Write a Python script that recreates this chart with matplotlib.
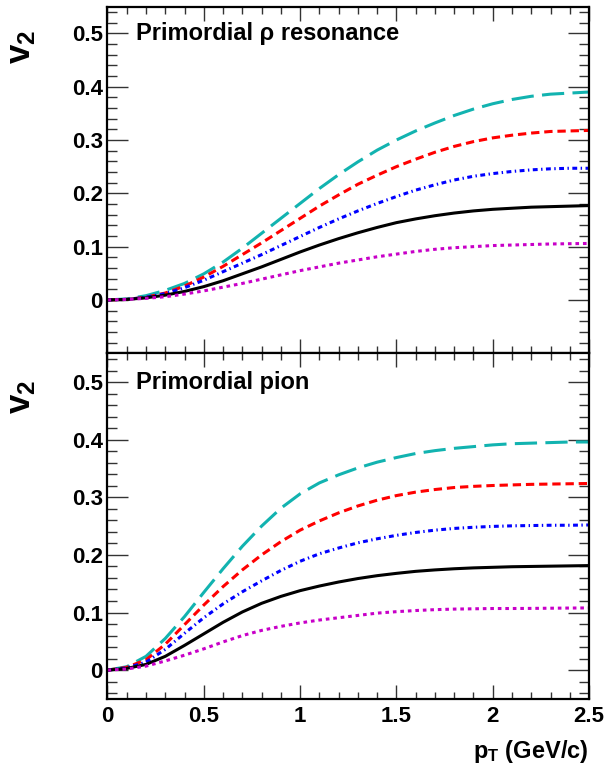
import numpy as np
import matplotlib
matplotlib.use("Agg")
import matplotlib.pyplot as plt
from matplotlib.ticker import MultipleLocator, FixedLocator, FuncFormatter

plt.rcParams["font.family"] = ["Liberation Sans", "DejaVu Sans"]
plt.rcParams["font.weight"] = "bold"
plt.rcParams["mathtext.fontset"] = "custom"
plt.rcParams["mathtext.rm"] = "Liberation Sans:bold"
plt.rcParams["mathtext.bf"] = "Liberation Sans:bold"
plt.rcParams["mathtext.it"] = "Liberation Sans:bold"
plt.rcParams["lines.scale_dashes"] = False

pt = np.round(np.arange(0, 2.51, 0.1), 2)

# primordial rho resonance
rho_cyan = [0, 0.002, 0.008, 0.018, 0.031, 0.049, 0.071, 0.097, 0.125, 0.153, 0.181,
            0.209, 0.235, 0.259, 0.281, 0.300, 0.317, 0.332, 0.346, 0.358, 0.368,
            0.376, 0.382, 0.386, 0.388, 0.390]
rho_red = [0, 0.001, 0.005, 0.013, 0.026, 0.043, 0.063, 0.085, 0.107, 0.130, 0.153,
           0.176, 0.197, 0.217, 0.234, 0.250, 0.264, 0.277, 0.288, 0.297, 0.304,
           0.309, 0.313, 0.316, 0.317, 0.318]
rho_blue = [0, 0.001, 0.005, 0.012, 0.023, 0.037, 0.053, 0.069, 0.085, 0.102, 0.119,
            0.136, 0.152, 0.167, 0.181, 0.194, 0.206, 0.216, 0.225, 0.232, 0.237,
            0.241, 0.244, 0.246, 0.247, 0.247]
rho_black = [0, 0.001, 0.004, 0.009, 0.016, 0.025, 0.036, 0.049, 0.062, 0.076, 0.090,
             0.103, 0.115, 0.126, 0.136, 0.145, 0.152, 0.158, 0.163, 0.167, 0.170,
             0.172, 0.174, 0.175, 0.176, 0.177]
rho_magenta = [0, 0.001, 0.003, 0.006, 0.011, 0.017, 0.024, 0.031, 0.039, 0.047, 0.055,
               0.062, 0.069, 0.075, 0.081, 0.086, 0.091, 0.095, 0.098, 0.100, 0.102,
               0.103, 0.104, 0.105, 0.1055, 0.106]

# primordial pion
pi_cyan = [0, 0.006, 0.024, 0.055, 0.093, 0.135, 0.176, 0.215, 0.250, 0.281, 0.306,
           0.325, 0.339, 0.351, 0.361, 0.369, 0.376, 0.381, 0.385, 0.388, 0.391,
           0.393, 0.394, 0.395, 0.396, 0.396]
pi_red = [0, 0.005, 0.018, 0.045, 0.079, 0.113, 0.145, 0.174, 0.200, 0.223, 0.243,
          0.259, 0.273, 0.285, 0.295, 0.303, 0.309, 0.3135, 0.317, 0.319, 0.3205,
          0.3215, 0.3225, 0.323, 0.3235, 0.324]
pi_blue = [0, 0.004, 0.014, 0.036, 0.064, 0.091, 0.115, 0.136, 0.155, 0.173, 0.189,
           0.202, 0.212, 0.221, 0.228, 0.234, 0.239, 0.243, 0.246, 0.248, 0.2495,
           0.2505, 0.251, 0.2515, 0.2515, 0.252]
pi_black = [0, 0.003, 0.010, 0.024, 0.043, 0.063, 0.083, 0.101, 0.116, 0.128, 0.138,
            0.146, 0.153, 0.159, 0.164, 0.168, 0.1715, 0.174, 0.176, 0.1775, 0.1785,
            0.1795, 0.180, 0.1805, 0.181, 0.1815]
pi_magenta = [0, 0.002, 0.007, 0.016, 0.026, 0.037, 0.049, 0.060, 0.069, 0.076, 0.082,
              0.087, 0.091, 0.095, 0.099, 0.1015, 0.1035, 0.105, 0.106, 0.1065, 0.107,
              0.107, 0.1072, 0.1075, 0.1078, 0.108]

styles = [
    ("#12b3b0", (0, (16, 6))),
    ("#ff0000", (0, (6, 3.5))),
    ("#0000ff", (0, (3.5, 2.5, 1, 2.5))),
    ("#000000", "-"),
    ("#c800c8", (0, (2.6, 2.8))),
]

panels = [
    ("Primordial \u03c1 resonance", [rho_cyan, rho_red, rho_blue, rho_black, rho_magenta], -0.1),
    ("Primordial pion", [pi_cyan, pi_red, pi_blue, pi_black, pi_magenta], -0.05),
]

fig = plt.figure(figsize=(6.08, 7.72), dpi=100)
left, width = 0.1768, 0.792
boxes = [(left, 0.5424, width, 0.4489), (left, 0.0946, width, 0.4478)]

fmt = FuncFormatter(lambda v, p: "0" if abs(v) < 1e-9 else f"{v:g}")

for (title, curves, ymin), box in zip(panels, boxes):
    ax = fig.add_axes(box)
    for vals, (color, ls) in zip(curves, styles):
        ax.plot(pt, vals, color=color, linestyle=ls, lw=2.2,
                dash_capstyle="butt", solid_capstyle="butt", solid_joinstyle="round")
    ax.set_xlim(0, 2.5)
    ax.set_ylim(ymin, 0.55)
    ax.xaxis.set_major_locator(MultipleLocator(0.5))
    ax.xaxis.set_minor_locator(MultipleLocator(0.1))
    ax.yaxis.set_major_locator(FixedLocator([0, 0.1, 0.2, 0.3, 0.4, 0.5]))
    ax.yaxis.set_minor_locator(MultipleLocator(0.02))
    ax.xaxis.set_major_formatter(fmt)
    ax.yaxis.set_major_formatter(fmt)
    ax.tick_params(which="both", direction="in", top=True, right=True,
                   labelsize=16, width=1.0, color="#333333")
    ax.tick_params(axis="y", which="major", length=15, pad=3.5)
    ax.tick_params(axis="y", which="minor", length=7)
    ax.tick_params(axis="x", which="major", length=10, pad=5)
    ax.tick_params(axis="x", which="minor", length=5)
    for s in ax.spines.values():
        s.set_linewidth(1.6)
    ax.text(0.06, 0.5, title, transform=ax.get_yaxis_transform(),
            fontsize=17, fontweight="bold", va="center", ha="left")
    ax.text(-0.178, 0.475, r"$\mathbf{v_2}$", transform=ax.get_yaxis_transform(),
            fontsize=25, rotation=90, va="center", ha="center")
    if ymin < -0.07:
        ax.tick_params(labelbottom=False)
    else:
        ax.set_xlabel(r"$\mathbf{p_T}$ (GeV/c)", fontsize=17, fontweight="bold",
                      ha="right", x=1.0, labelpad=8)

fig.savefig("out.png", dpi=100)
